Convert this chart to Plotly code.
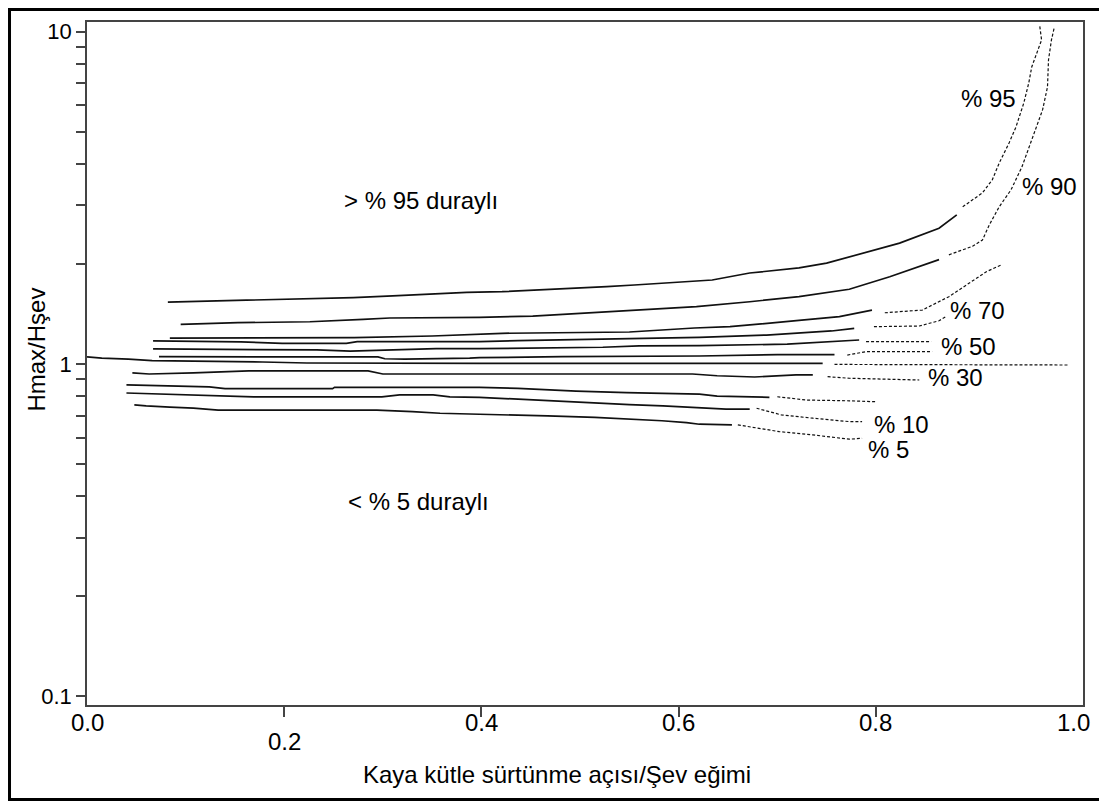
import math
import plotly.graph_objects as go

# ---------------- data ----------------
# Each curve: solid part (x, y) and dashed continuation (x, y)
c95_x = [0.082, 0.134, 0.214, 0.270, 0.310, 0.334, 0.361, 0.385, 0.421, 0.462, 0.500, 0.527, 0.555, 0.583, 0.601, 0.634, 0.672, 0.722, 0.750, 0.773, 0.824, 0.864, 0.882]
c95_y = [1.536, 1.550, 1.565, 1.583, 1.602, 1.616, 1.632, 1.643, 1.650, 1.670, 1.693, 1.708, 1.728, 1.752, 1.768, 1.789, 1.878, 1.945, 2.01, 2.10, 2.31, 2.56, 2.81]
c95_dx = [0.888, 0.908, 0.918, 0.925, 0.935, 0.942, 0.950, 0.955, 0.958, 0.964, 0.968, 0.966]
c95_dy = [2.97, 3.27, 3.58, 4.02, 4.62, 5.16, 6.10, 7.00, 7.82, 8.80, 9.43, 10.46]

c90_x = [0.095, 0.153, 0.226, 0.253, 0.280, 0.307, 0.398, 0.452, 0.474, 0.520, 0.542, 0.563, 0.583, 0.618, 0.672, 0.722, 0.773, 0.814, 0.864]
c90_y = [1.316, 1.331, 1.340, 1.349, 1.363, 1.375, 1.382, 1.394, 1.406, 1.426, 1.440, 1.453, 1.463, 1.487, 1.539, 1.594, 1.678, 1.830, 2.06]
c90_dx = [0.874, 0.898, 0.908, 0.915, 0.925, 0.937, 0.948, 0.958, 0.969, 0.974, 0.975, 0.978, 0.981]
c90_dy = [2.13, 2.26, 2.36, 2.62, 2.97, 3.34, 3.91, 4.72, 5.81, 6.81, 8.21, 9.43, 10.32]

c80_x = [0.084, 0.271, 0.350, 0.398, 0.421, 0.550, 0.572, 0.594, 0.616, 0.652, 0.680, 0.702, 0.722, 0.763, 0.796]
c80_y = [1.197, 1.201, 1.214, 1.227, 1.237, 1.248, 1.259, 1.272, 1.283, 1.295, 1.316, 1.331, 1.352, 1.388, 1.453]
c80_dx = [0.809, 0.847, 0.874, 0.912, 0.927]
c80_dy = [1.426, 1.453, 1.594, 1.895, 1.985]

c70_x = [0.067, 0.156, 0.198, 0.263, 0.274, 0.398, 0.437, 0.518, 0.560, 0.621, 0.689, 0.715, 0.755, 0.778]
c70_y = [1.173, 1.165, 1.154, 1.154, 1.167, 1.167, 1.175, 1.186, 1.197, 1.203, 1.222, 1.237, 1.257, 1.280]
c70_dx = [0.798, 0.844, 0.864, 0.871]
c70_dy = [1.295, 1.301, 1.349, 1.388]

c60_x = [0.067, 0.233, 0.267, 0.307, 0.354, 0.398, 0.523, 0.560, 0.621, 0.710, 0.736, 0.783]
c60_y = [1.110, 1.102, 1.094, 1.102, 1.112, 1.112, 1.123, 1.133, 1.135, 1.148, 1.159, 1.181]
c60_dx = [0.790, 0.856]
c60_dy = [1.167, 1.167]

c50_x = [0.073, 0.295, 0.302, 0.322, 0.388, 0.398, 0.482, 0.621, 0.700, 0.758]
c50_y = [1.052, 1.050, 1.037, 1.035, 1.042, 1.045, 1.052, 1.057, 1.067, 1.067]
c50_dx = [0.771, 0.790, 0.857]
c50_dy = [1.064, 1.089, 1.089]

c40_x = [0.0, 0.015, 0.042, 0.066, 0.178, 0.223, 0.398, 0.746]
c40_y = [1.050, 1.042, 1.035, 1.023, 1.014, 1.007, 1.005, 1.005]
c40_dx = [0.758, 0.996]
c40_dy = [0.997, 0.993]

c30_x = [0.046, 0.063, 0.108, 0.164, 0.285, 0.300, 0.398, 0.614, 0.639, 0.677, 0.719, 0.736]
c30_y = [0.940, 0.933, 0.940, 0.953, 0.953, 0.933, 0.933, 0.933, 0.922, 0.914, 0.927, 0.927]
c30_dx = [0.751, 0.773, 0.844]
c30_dy = [0.916, 0.906, 0.895]

c20_x = [0.040, 0.106, 0.124, 0.140, 0.249, 0.251, 0.398, 0.437, 0.467, 0.496, 0.547, 0.599, 0.621, 0.639, 0.677, 0.692]
c20_y = [0.865, 0.859, 0.853, 0.843, 0.843, 0.851, 0.851, 0.845, 0.837, 0.829, 0.820, 0.812, 0.812, 0.801, 0.794, 0.794]
c20_dx = [0.700, 0.730, 0.773, 0.800]
c20_dy = [0.797, 0.779, 0.775, 0.770]

c10_x = [0.040, 0.080, 0.137, 0.169, 0.299, 0.317, 0.351, 0.368, 0.398, 0.427, 0.466, 0.489, 0.518, 0.550, 0.584, 0.613, 0.648, 0.672]
c10_y = [0.818, 0.812, 0.801, 0.796, 0.796, 0.807, 0.807, 0.796, 0.794, 0.786, 0.775, 0.768, 0.762, 0.755, 0.748, 0.741, 0.732, 0.732]
c10_dx = [0.679, 0.704, 0.736, 0.773, 0.786]
c10_dy = [0.736, 0.703, 0.687, 0.671, 0.671]

c5_x = [0.048, 0.060, 0.084, 0.108, 0.133, 0.294, 0.330, 0.358, 0.398, 0.410, 0.467, 0.515, 0.555, 0.583, 0.608, 0.621, 0.654]
c5_y = [0.753, 0.748, 0.742, 0.737, 0.727, 0.727, 0.719, 0.711, 0.706, 0.704, 0.698, 0.691, 0.682, 0.675, 0.666, 0.659, 0.656]
c5_dx = [0.660, 0.702, 0.736, 0.773, 0.786]
c5_dy = [0.656, 0.626, 0.612, 0.594, 0.598]

curves = [
    (c95_x, c95_y, c95_dx, c95_dy),
    (c90_x, c90_y, c90_dx, c90_dy),
    (c80_x, c80_y, c80_dx, c80_dy),
    (c70_x, c70_y, c70_dx, c70_dy),
    (c60_x, c60_y, c60_dx, c60_dy),
    (c50_x, c50_y, c50_dx, c50_dy),
    (c40_x, c40_y, c40_dx, c40_dy),
    (c30_x, c30_y, c30_dx, c30_dy),
    (c20_x, c20_y, c20_dx, c20_dy),
    (c10_x, c10_y, c10_dx, c10_dy),
    (c5_x, c5_y, c5_dx, c5_dy),
]

# curve labels
label_text = ["% 95", "% 90", "% 70", "% 50", "% 30", "% 10", "% 5"]
label_x = [0.914, 0.976, 0.903, 0.894, 0.881, 0.826, 0.813]
label_y = [6.31, 3.41, 1.453, 1.125, 0.908, 0.656, 0.555]

region_text = ["> % 95 duraylı", "< % 5 duraylı"]
region_x = [0.339, 0.336]
region_y = [3.11, 0.385]

x_tickvals = [0.0, 0.2, 0.4, 0.6, 0.8, 1.0]
x_ticktext = ["0.0", "0.2", "0.4", "0.6", "0.8", "1.0"]
x_dropped = [False, True, False, False, False, False]   # 0.2 is printed lower
y_tickvals = [0.1, 1, 10]
y_ticktext = ["0.1", "1", "10"]
y_minor = [0.2, 0.3, 0.4, 0.5, 0.6, 0.7, 0.8, 0.9, 2, 3, 4, 5, 6, 7, 8, 9]

x_title = "Kaya kütle sürtünme açısı/Şev eğimi"
y_title = "Hmax/Hşev"

# ---------------- figure ----------------
FONT = "Liberation Sans, Arial, sans-serif"
fig = go.Figure()
for sx, sy, dx, dy in curves:
    fig.add_trace(go.Scatter(x=sx, y=sy, mode="lines",
                             line=dict(color="#111111", width=1.7),
                             showlegend=False, hoverinfo="skip"))
    fig.add_trace(go.Scatter(x=dx, y=dy, mode="lines",
                             line=dict(color="#111111", width=1.2, dash="3px,2px"),
                             showlegend=False, hoverinfo="skip"))

for t, x, y in zip(label_text, label_x, label_y):
    fig.add_annotation(x=x, y=math.log10(y), xref="x", yref="y", text=t, showarrow=False,
                       font=dict(family=FONT, size=24, color="#000"))
for t, x, y in zip(region_text, region_x, region_y):
    fig.add_annotation(x=x, y=math.log10(y), xref="x", yref="y", text=t, showarrow=False,
                       font=dict(family=FONT, size=24, color="#000"))

# x tick labels (0.2 printed on a lower row, as in the original)
for v, t, low in zip(x_tickvals, x_ticktext, x_dropped):
    fig.add_annotation(x=v, y=-0.025 - (0.028 if low else 0.0), xref="x", yref="paper",
                       text=t, showarrow=False, yanchor="middle",
                       font=dict(family=FONT, size=24, color="#000"))

# axis titles
fig.add_annotation(x=0.472, y=-0.1245, xref="paper", yref="paper", text=x_title,
                   showarrow=False, font=dict(family=FONT, size=24, color="#000"))
fig.add_annotation(x=-0.066, y=0.52, xref="paper", yref="paper", text=y_title,
                   textangle=-90, showarrow=False,
                   font=dict(family=FONT, size=24, color="#000"))

# outer frame
fig.add_shape(type="rect", xref="paper", yref="paper",
              x0=-0.0778, x1=1.0186, y0=-0.1384, y1=1.0183,
              line=dict(color="#000", width=3))

fig.update_xaxes(range=[0, 1.01], showgrid=False, zeroline=False, automargin=False,
                 showline=True, mirror=True, linecolor="#444", linewidth=1.5,
                 ticks="outside", ticklen=10, tickcolor="#444", tickwidth=1.5,
                 tickmode="array", tickvals=x_tickvals[1:-1], showticklabels=False)
fig.update_yaxes(type="log", range=[-1.0256, 1.0286], showgrid=False, zeroline=False,
                 automargin=False,
                 showline=True, mirror=True, linecolor="#444", linewidth=1.5,
                 ticks="outside", ticklen=9, tickcolor="#444", tickwidth=1.5,
                 tickmode="array", tickvals=y_tickvals, ticktext=y_ticktext,
                 tickfont=dict(family=FONT, size=22, color="#000"),
                 minor=dict(tickmode="array", tickvals=y_minor, ticks="outside",
                            ticklen=9, tickcolor="#444", tickwidth=1.5, showgrid=False))

fig.update_layout(width=1095, height=793, paper_bgcolor="white", plot_bgcolor="white",
                  margin=dict(l=79, r=20, t=14, b=96), showlegend=False)

fig.write_html("out.html")
